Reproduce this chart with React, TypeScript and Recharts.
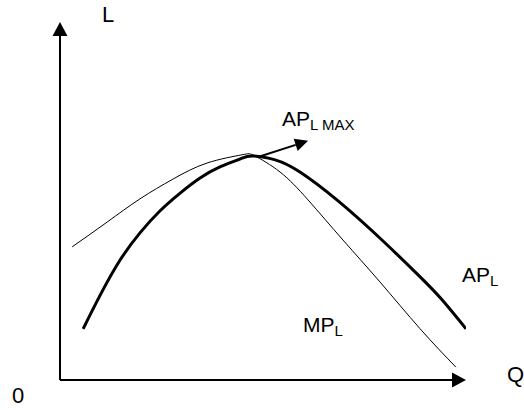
import { LineChart, Line, XAxis, YAxis, ReferenceLine } from 'recharts';

// ── Data (Q on horizontal axis, L on vertical axis, both 0–100) ──

const apQ = [5.7, 9.9, 14.8, 19.7, 24.6, 29.6, 34.5, 39.4, 44.3, 47.3, 53.0, 59.1, 68.2, 79.3, 88.7, 94.1, 100];
const apL = [14.3, 23.7, 33.5, 41.1, 47.2, 52.2, 56.4, 59.5, 61.7, 62.6, 61.5, 58.1, 50.3, 39.1, 28.8, 22.4, 14.3];

const mpQ = [3.0, 11.6, 19.7, 27.8, 36.2, 44.8, 48.0, 54.2, 61.1, 69.7, 78.8, 88.7, 97.5];
const mpL = [37.2, 44.1, 50.6, 56.1, 60.6, 62.9, 62.6, 58.1, 50.3, 39.1, 27.4, 14.3, 3.6];

// annotation arrow: from AP max outwards
const maxArrow = [
  { x: 48.8, y: 62.3 },
  { x: 61.1, y: 66.8 },
];

const apData = apQ.map((q, i) => ({ q, l: apL[i] }));
const mpData = mpQ.map((q, i) => ({ q, l: mpL[i] }));

const FONT = '"Liberation Sans", Arial, sans-serif';

// ── Arrow shape for ReferenceLine segments ──

function arrowShape(head: number, half: number, width: number) {
  return (props: any) => {
    const { x1, y1, x2, y2 } = props;
    const a = Math.atan2(y2 - y1, x2 - x1);
    const bx = x2 - head * Math.cos(a);
    const by = y2 - head * Math.sin(a);
    const px = -Math.sin(a) * half;
    const py = Math.cos(a) * half;
    return (
      <g>
        <line x1={x1} y1={y1} x2={bx} y2={by} stroke="#000" strokeWidth={width} />
        <polygon points={`${x2},${y2} ${bx + px},${by + py} ${bx - px},${by - py}`} fill="#000" />
      </g>
    );
  };
}

export default function App() {
  return (
    <div style={{ position: 'absolute', left: 0, top: 0, width: 524, height: 410, background: '#fff' }}>
      <LineChart width={524} height={410} margin={{ top: 22, right: 58, bottom: 30, left: 60 }}>
        <XAxis type="number" dataKey="q" domain={[0, 100]} hide allowDataOverflow />
        <YAxis type="number" dataKey="l" domain={[0, 100]} hide allowDataOverflow />
        <ReferenceLine
          segment={[{ x: 0, y: 0 }, { x: 100, y: 0 }]}
          ifOverflow="visible"
          shape={arrowShape(14, 7.5, 2)}
        />
        <ReferenceLine
          segment={[{ x: 0, y: 0 }, { x: 0, y: 100 }]}
          ifOverflow="visible"
          shape={arrowShape(14, 7.5, 2)}
        />
        <Line
          data={mpData}
          dataKey="l"
          type="natural"
          stroke="#000"
          strokeWidth={1}
          dot={false}
          isAnimationActive={false}
        />
        <Line
          data={apData}
          dataKey="l"
          type="natural"
          stroke="#000"
          strokeWidth={3}
          dot={false}
          isAnimationActive={false}
        />
        <ReferenceLine segment={maxArrow} ifOverflow="visible" shape={arrowShape(13, 6.5, 2)} />
        <g fontFamily={FONT} fill="#000">
          <text x={102} y={22} fontSize={22}>L</text>
          <text x={12} y={403} fontSize={22}>0</text>
          <text x={507} y={382} fontSize={22}>Q</text>
          <text x={282} y={126} fontSize={21}>
            AP<tspan fontSize={15} dy={4}>L MAX</tspan>
          </text>
          <text x={462} y={282} fontSize={21}>
            AP<tspan fontSize={15} dy={4}>L</tspan>
          </text>
          <text x={303} y={332} fontSize={21}>
            MP<tspan fontSize={15} dy={4}>L</tspan>
          </text>
        </g>
      </LineChart>
    </div>
  );
}
